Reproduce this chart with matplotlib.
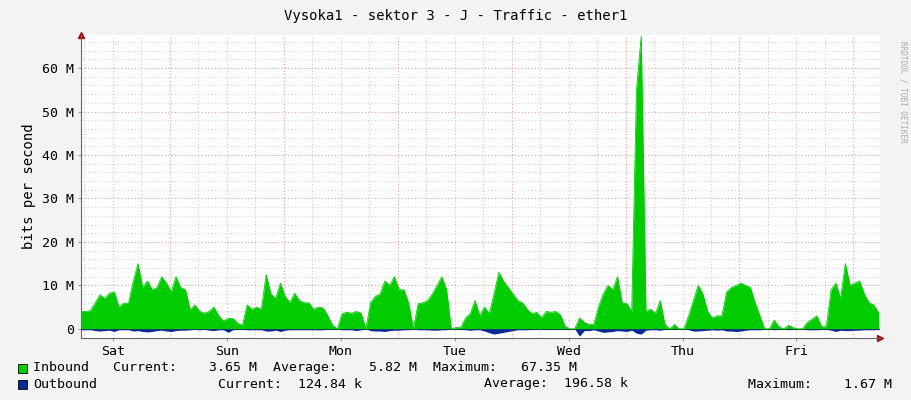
import matplotlib
matplotlib.use("Agg")
import matplotlib.pyplot as plt
from matplotlib.patches import Rectangle
import numpy as np

title = "Vysoka1 - sektor 3 - J - Traffic - ether1"
days = ["Sat", "Sun", "Mon", "Tue", "Wed", "Thu", "Fri"]
start_hour = 5.3  # hours after Saturday 00:00 of first sample
inbound = [4.0, 4.0, 4.2, 6.0, 7.8, 7.0, 8.2, 8.5, 5.0, 5.9, 5.9, 10.9, 15.0, 9.5, 11.0, 9.0,
           9.5, 12.0, 10.5, 8.5, 12.0, 9.5, 9.0, 4.4, 5.5, 4.0, 3.6, 4.0, 5.0, 3.0, 1.8, 2.4,
           2.4, 1.3, 0.8, 5.5, 4.5, 5.0, 4.5, 12.5, 8.0, 7.0, 10.5, 7.5, 6.0, 8.2, 6.5, 6.0,
           6.0, 4.5, 5.0, 4.8, 3.0, 0.8, 0.0, 3.5, 3.8, 3.6, 4.0, 3.6, 0.0, 6.0, 7.5, 8.0,
           11.0, 10.0, 12.0, 9.0, 9.0, 6.0, 0.0, 5.8, 6.0, 6.5, 8.0, 10.0, 12.0, 9.0, 0.0, 0.3,
           0.3, 2.5, 3.5, 6.5, 3.0, 5.0, 3.5, 8.0, 13.0, 11.0, 9.5, 8.0, 6.5, 6.0, 4.5, 3.5,
           3.8, 2.5, 4.0, 3.8, 4.0, 3.2, 0.5, 0.0, 0.0, 2.5, 1.5, 1.0, 1.0, 5.0, 8.0, 10.0,
           9.0, 12.0, 6.0, 5.8, 4.0, 55.0, 67.35, 4.0, 4.5, 3.5, 6.5, 1.0, 0.0, 1.0, 0.0, 0.0,
           3.0, 6.5, 10.0, 8.0, 4.0, 2.5, 3.0, 3.0, 8.5, 9.5, 10.0, 10.5, 10.0, 9.5, 6.0, 3.0,
           0.0, 0.0, 2.0, 0.5, 0.0, 0.8, 0.3, 0.0, 0.0, 1.5, 2.2, 3.0, 0.5, 0.5, 9.0, 10.5,
           7.0, 15.0, 10.0, 10.5, 11.0, 8.0, 6.0, 5.5, 3.7]
outbound = [0.2, 0.2, 0.2, 0.4, 0.5, 0.4, 0.3, 0.6, 0.2, 0.2, 0.2, 0.5, 0.4, 0.6, 0.7, 0.6,
            0.4, 0.3, 0.5, 0.6, 0.4, 0.3, 0.3, 0.2, 0.1, 0.2, 0.1, 0.3, 0.4, 0.2, 0.2, 0.8,
            0.2, 0.1, 0.1, 0.2, 0.2, 0.2, 0.2, 0.5, 0.5, 0.3, 0.6, 0.3, 0.2, 0.2, 0.2, 0.2,
            0.2, 0.2, 0.2, 0.2, 0.1, 0.1, 0.0, 0.2, 0.2, 0.2, 0.4, 0.2, 0.0, 0.4, 0.5, 0.5,
            0.6, 0.4, 0.3, 0.3, 0.2, 0.2, 0.0, 0.2, 0.2, 0.2, 0.3, 0.3, 0.2, 0.2, 0.0, 0.1,
            0.1, 0.2, 0.3, 0.2, 0.2, 0.5, 0.9, 1.2, 1.0, 0.8, 0.6, 0.4, 0.2, 0.2, 0.2, 0.1,
            0.1, 0.1, 0.1, 0.1, 0.1, 0.1, 0.1, 0.0, 0.0, 1.67, 0.4, 0.4, 0.2, 0.5, 0.8, 0.7,
            0.6, 0.4, 0.5, 0.6, 0.3, 1.0, 1.2, 0.3, 0.2, 0.2, 0.3, 0.1, 0.0, 0.1, 0.0, 0.0,
            0.2, 0.5, 0.5, 0.4, 0.3, 0.2, 0.3, 0.2, 0.5, 0.5, 0.6, 0.5, 0.3, 0.2, 0.2, 0.2,
            0.0, 0.0, 0.2, 0.1, 0.0, 0.2, 0.1, 0.0, 0.0, 0.2, 0.2, 0.2, 0.1, 0.1, 0.3, 0.6,
            0.3, 0.4, 0.4, 0.3, 0.3, 0.2, 0.2, 0.2, 0.12]

t = start_hour + np.arange(len(inbound))
inb = np.array(inbound)
outb = -np.array(outbound)

fig = plt.figure(figsize=(9.11, 4.0), dpi=100, facecolor="#f3f3f3")
ax = fig.add_axes([81/911, 62/400, 799/911, 303/400], facecolor="white")
mono = "DejaVu Sans Mono"

ax.fill_between(t, 0, inb, color="#00cc00", lw=0, zorder=3)
ax.fill_between(t, 0, outb, color="#002a97", lw=0, zorder=3)
ax.plot(t, inb, color="#00cc00", lw=0.6, zorder=3)

xmin, xmax = start_hour, start_hour + len(inbound) - 1
ax.set_xlim(xmin, xmax + 0.3)
ax.set_ylim(-2.1, 67.6)

for h in np.arange(6, 24*8, 6):
    if xmin < h < xmax + 0.3:
        col = "#e6a0a0" if h % 24 == 0 else "#cccccc"
        ax.axvline(h, color=col, lw=0.8, ls=(0, (1, 2)), zorder=1)
for v in np.arange(2, 68, 2):
    col = "#e6a0a0" if v % 10 == 0 else "#d4d4d4"
    ax.axhline(v, color=col, lw=0.8, ls=(0, (1, 2)), zorder=1)

ax.set_xticks([12 + 24*k for k in range(7)])
ax.set_xticklabels(days, fontsize=9.5, family=mono)
ax.set_yticks([0, 10, 20, 30, 40, 50, 60])
ax.set_yticklabels(["0"] + [f"{v} M" for v in range(10, 70, 10)], fontsize=9.5, family=mono)
ax.tick_params(length=2, color="#999999", pad=3)
for s in ["top", "right"]:
    ax.spines[s].set_visible(False)
ax.spines["left"].set_color("#666666")
ax.spines["bottom"].set_color("#666666")
ax.axhline(0, color="#222222", lw=0.8, zorder=2)
ax.plot(1, 0, ">", color="#a01010", transform=ax.transAxes, clip_on=False, ms=4)
ax.plot(0, 1, "^", color="#a01010", transform=ax.transAxes, clip_on=False, ms=4)

ax.set_ylabel("bits per second", fontsize=10, family=mono)
fig.text(0.5, 1 - 16/400, title, ha="center", va="center", fontsize=10, family=mono)
fig.text(903/911, 0.5 + 0.27, "RRDTOOL / TOBI OETIKER", rotation=270, ha="center",
         va="center", fontsize=5.5, color="#aaaaaa", family=mono)

for yy, col in [(368, "#00cc00"), (384, "#002a97")]:
    fig.patches.append(Rectangle((18/911, 1 - (yy + 5)/400), 9/911, 9/400,
                                 transform=fig.transFigure, facecolor=col,
                                 edgecolor="black", lw=0.6))
fs = 9.5
fig.text(33/911, 1 - 368/400, "Inbound   Current:    3.65 M  Average:    5.82 M  Maximum:   67.35 M",
         fontsize=fs, family=mono, va="center")
fig.text(33/911, 1 - 384/400, "Outbound", fontsize=fs, family=mono, va="center")
fig.text(218/911, 1 - 384/400, "Current:  124.84 k", fontsize=fs, family=mono, va="center")
fig.text(484/911, 1 - 384/400, "Average:  196.58 k", fontsize=fs, family=mono, va="center")
fig.text(748/911, 1 - 384/400, "Maximum:    1.67 M", fontsize=fs, family=mono, va="center")

fig.savefig("out.png", dpi=100, facecolor=fig.get_facecolor())
